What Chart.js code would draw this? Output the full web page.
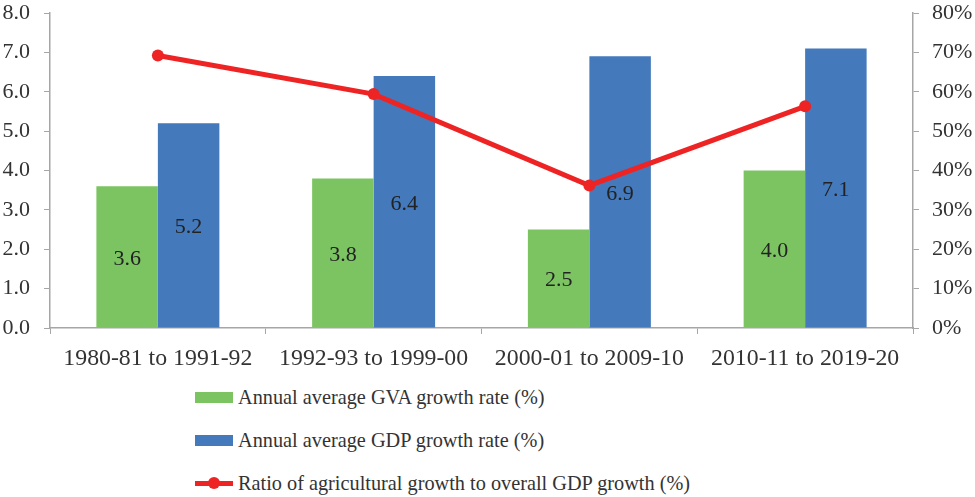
<!DOCTYPE html>
<html>
<head>
<meta charset="utf-8">
<script src="https://cdn.jsdelivr.net/npm/chart.js@4/dist/chart.umd.min.js"></script>
<style>
  html, body { margin: 0; padding: 0; background: #fff; }
  #wrap { position: relative; width: 975px; height: 497px; }
  #c { position: absolute; left: 0; top: 0; }
  .leg { position: absolute; left: 195px; font-family: "Liberation Serif", "Times New Roman", serif; font-size: 20.3px; color: #333; white-space: nowrap; line-height: 26px; }
  .sw { position: absolute; left: 0; top: 8px; width: 38px; height: 11px; }
  .leg span.t { position: absolute; left: 43px; top: 0; }
  .ln { position: absolute; left: 0; top: 11px; width: 38px; height: 5px; background: #ee2424; }
  .dot { position: absolute; left: 13px; top: 7px; width: 12px; height: 12px; border-radius: 50%; background: #ee2424; }
</style>
</head>
<body>
<div id="wrap">
  <canvas id="c" width="975" height="375"></canvas>
  <div class="leg" style="top:384px"><div class="sw" style="background:#7cc462"></div><span class="t">Annual average GVA growth rate (%)</span></div>
  <div class="leg" style="top:427px"><div class="sw" style="background:#4479bb"></div><span class="t">Annual average GDP growth rate (%)</span></div>
  <div class="leg" style="top:470px"><div class="ln"></div><div class="dot"></div><span class="t">Ratio of agricultural growth to overall GDP growth (%)</span></div>
</div>
<script>
const categories = ["1980-81 to 1991-92", "1992-93 to 1999-00", "2000-01 to 2009-10", "2010-11 to 2019-20"];
const gvaGrowth = [3.6, 3.8, 2.5, 4.0];
const gdpGrowth = [5.2, 6.4, 6.9, 7.1];
const ratioPct = [69.2, 59.4, 36.2, 56.3];
const leftTicks = [0, 1, 2, 3, 4, 5, 6, 7, 8];
const rightTicks = [0, 10, 20, 30, 40, 50, 60, 70, 80];

const FONT = '"Liberation Serif", "Times New Roman", serif';
const AXIS = '#a6a6a6';
const TXT = '#333333';

const barLabels = {
  id: 'barLabels',
  afterDatasetsDraw(chart) {
    const ctx = chart.ctx;
    ctx.save();
    ctx.font = '22px ' + FONT;
    ctx.fillStyle = '#222';
    ctx.textAlign = 'center';
    ctx.textBaseline = 'middle';
    chart.data.datasets.forEach((ds, i) => {
      if (ds.type !== 'bar') return;
      const meta = chart.getDatasetMeta(i);
      meta.data.forEach((el, j) => {
        const midY = (el.y + el.base) / 2;
        ctx.fillText(ds.data[j].toFixed(1), el.x, midY + 2);
      });
    });
    ctx.restore();
  }
};

new Chart(document.getElementById('c'), {
  type: 'bar',
  data: {
    labels: categories,
    datasets: [
      { type: 'bar', label: 'Annual average GVA growth rate (%)', data: gvaGrowth, backgroundColor: '#7cc462', yAxisID: 'y', order: 1 },
      { type: 'bar', label: 'Annual average GDP growth rate (%)', data: gdpGrowth, backgroundColor: '#4479bb', yAxisID: 'y', order: 1 },
      { type: 'line', label: 'Ratio of agricultural growth to overall GDP growth (%)', data: ratioPct, borderColor: '#ee2424', backgroundColor: '#ee2424', borderWidth: 5, pointRadius: 6, pointHoverRadius: 6, pointBackgroundColor: '#ee2424', pointBorderWidth: 0, yAxisID: 'y2', order: 0, tension: 0 }
    ]
  },
  options: {
    responsive: false,
    animation: false,
    events: [],
    layout: { padding: { top: 13, left: 0, right: 0, bottom: 0 } },
    datasets: { bar: { categoryPercentage: 0.57, barPercentage: 1.0 } },
    plugins: { legend: { display: false }, tooltip: { enabled: false } },
    scales: {
      x: {
        grid: { display: true, drawOnChartArea: false, drawTicks: true, tickLength: 6, color: AXIS, offset: true },
        border: { display: true, color: AXIS, width: 1.5 },
        ticks: { font: { family: FONT, size: 23.8 }, color: TXT, padding: 10, maxRotation: 0 },
        afterFit(s) { s.height = 47; s.paddingLeft = 0; s.paddingRight = 0; }
      },
      y: {
        position: 'left', min: 0, max: 8,
        afterBuildTicks(s) { s.ticks = leftTicks.map(v => ({ value: v })); },
        grid: { display: true, drawOnChartArea: false, drawTicks: true, tickLength: 6, color: AXIS },
        border: { display: true, color: AXIS, width: 1.5 },
        ticks: { font: { family: FONT, size: 22 }, color: TXT, padding: 14, callback: v => v.toFixed(1) },
        afterFit(s) { s.width = 50; s.paddingTop = 0; s.paddingBottom = 0; }
      },
      y2: {
        position: 'right', min: 0, max: 80,
        afterBuildTicks(s) { s.ticks = rightTicks.map(v => ({ value: v })); },
        grid: { display: true, drawOnChartArea: false, drawTicks: true, tickLength: 6, color: AXIS },
        border: { display: true, color: AXIS, width: 1.5 },
        ticks: { font: { family: FONT, size: 22 }, color: TXT, padding: 13, callback: v => v + '%' },
        afterFit(s) { s.width = 62; s.paddingTop = 0; s.paddingBottom = 0; }
      }
    }
  },
  plugins: [barLabels]
});
</script>
</body>
</html>
